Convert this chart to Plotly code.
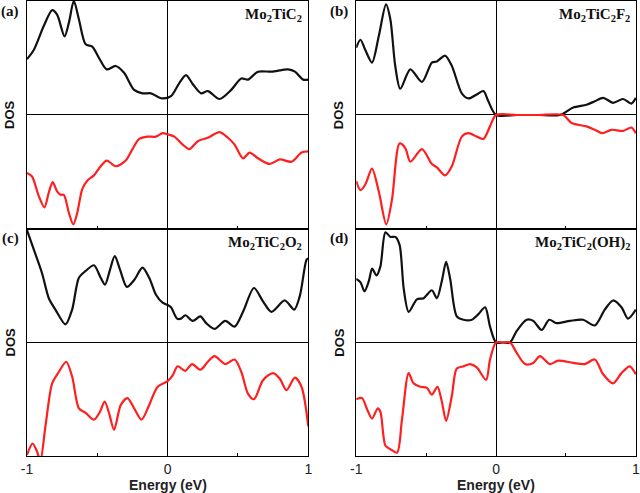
import plotly.graph_objects as go

# ---------------- data (energy in eV, DOS normalised) ----------------
a_up_x = [-1.0, -0.952, -0.881, -0.821, -0.786, -0.733, -0.702, -0.667, -0.631, -0.583, -0.536, -0.488, -0.433, -0.369, -0.31, -0.238, -0.179, -0.119, -0.071, -0.036, 0.024, 0.083, 0.131, 0.179, 0.238, 0.286, 0.369, 0.452, 0.524, 0.571, 0.643, 0.738, 0.857, 0.905, 0.964, 1.0]
a_up_y = [0.49, 0.57, 0.78, 0.92, 0.88, 0.69, 0.81, 1.0, 0.84, 0.62, 0.60, 0.50, 0.40, 0.43, 0.37, 0.22, 0.19, 0.19, 0.16, 0.145, 0.165, 0.28, 0.35, 0.27, 0.19, 0.21, 0.14, 0.22, 0.32, 0.31, 0.38, 0.38, 0.40, 0.38, 0.31, 0.31]
a_dn_x = [-1.0, -0.964, -0.917, -0.876, -0.845, -0.817, -0.786, -0.762, -0.738, -0.702, -0.671, -0.643, -0.607, -0.567, -0.524, -0.476, -0.433, -0.369, -0.298, -0.25, -0.202, -0.143, -0.083, -0.036, 0.0, 0.048, 0.107, 0.155, 0.214, 0.286, 0.369, 0.429, 0.476, 0.536, 0.583, 0.643, 0.726, 0.798, 0.881, 0.952, 1.0]
a_dn_y = [-0.51, -0.54, -0.71, -0.81, -0.68, -0.59, -0.67, -0.70, -0.70, -0.86, -0.96, -0.86, -0.65, -0.57, -0.53, -0.45, -0.40, -0.45, -0.40, -0.30, -0.21, -0.19, -0.19, -0.16, -0.17, -0.19, -0.26, -0.30, -0.23, -0.20, -0.15, -0.20, -0.26, -0.38, -0.33, -0.38, -0.43, -0.39, -0.41, -0.33, -0.32]

b_up_x = [-1.0, -0.97, -0.935, -0.887, -0.839, -0.787, -0.756, -0.721, -0.685, -0.613, -0.53, -0.459, -0.423, -0.364, -0.316, -0.245, -0.197, -0.138, -0.09, -0.055, 0.0, 0.15, 0.3, 0.457, 0.552, 0.647, 0.706, 0.766, 0.837, 0.908, 0.968, 1.0]
b_up_y = [0.59, 0.66, 0.57, 0.46, 0.69, 0.97, 0.84, 0.43, 0.23, 0.40, 0.29, 0.46, 0.47, 0.52, 0.43, 0.19, 0.145, 0.18, 0.21, 0.12, 0.0, 0.0, 0.0, 0.0, 0.065, 0.09, 0.12, 0.15, 0.107, 0.14, 0.10, 0.15]
b_dn_x = [-1.0, -0.97, -0.935, -0.887, -0.839, -0.785, -0.744, -0.69, -0.649, -0.613, -0.53, -0.459, -0.423, -0.364, -0.316, -0.245, -0.197, -0.138, -0.09, -0.043, 0.0, 0.15, 0.3, 0.48, 0.54, 0.647, 0.706, 0.761, 0.825, 0.908, 0.968, 1.0]
b_dn_y = [-0.58, -0.66, -0.61, -0.47, -0.67, -0.96, -0.74, -0.25, -0.29, -0.41, -0.30, -0.43, -0.46, -0.53, -0.45, -0.19, -0.16, -0.19, -0.21, -0.10, 0.0, 0.0, 0.0, 0.0, -0.07, -0.10, -0.13, -0.16, -0.13, -0.14, -0.11, -0.16]

c_up_x = [-1.0, -0.952, -0.893, -0.845, -0.798, -0.726, -0.679, -0.631, -0.583, -0.524, -0.476, -0.445, -0.41, -0.376, -0.338, -0.29, -0.238, -0.179, -0.131, -0.083, -0.036, 0.0, 0.024, 0.067, 0.095, 0.126, 0.179, 0.233, 0.274, 0.333, 0.41, 0.476, 0.536, 0.614, 0.679, 0.738, 0.833, 0.9, 0.94, 0.988, 1.0]
c_up_y = [0.99, 0.82, 0.61, 0.39, 0.29, 0.16, 0.29, 0.57, 0.63, 0.68, 0.57, 0.51, 0.64, 0.76, 0.64, 0.49, 0.55, 0.66, 0.57, 0.42, 0.35, 0.33, 0.31, 0.21, 0.21, 0.24, 0.19, 0.23, 0.17, 0.12, 0.19, 0.14, 0.27, 0.48, 0.36, 0.27, 0.37, 0.29, 0.41, 0.73, 0.74]
c_dn_x = [-1.0, -0.96, -0.929, -0.905, -0.869, -0.821, -0.774, -0.721, -0.679, -0.631, -0.583, -0.524, -0.481, -0.448, -0.417, -0.381, -0.333, -0.286, -0.238, -0.186, -0.131, -0.071, 0.0, 0.036, 0.071, 0.126, 0.174, 0.233, 0.286, 0.333, 0.41, 0.476, 0.524, 0.571, 0.614, 0.679, 0.75, 0.798, 0.845, 0.905, 0.952, 1.0]
c_dn_y = [-0.99, -0.89, -0.96, -1.04, -0.74, -0.36, -0.26, -0.17, -0.30, -0.58, -0.62, -0.68, -0.61, -0.52, -0.62, -0.77, -0.55, -0.49, -0.58, -0.68, -0.55, -0.39, -0.34, -0.29, -0.21, -0.25, -0.19, -0.24, -0.17, -0.12, -0.19, -0.15, -0.26, -0.45, -0.50, -0.33, -0.27, -0.32, -0.42, -0.31, -0.39, -0.74]

d_up_x = [-1.0, -0.969, -0.941, -0.91, -0.886, -0.855, -0.827, -0.791, -0.755, -0.72, -0.69, -0.66, -0.625, -0.566, -0.518, -0.459, -0.423, -0.388, -0.357, -0.328, -0.281, -0.233, -0.174, -0.126, -0.078, -0.043, 0.0, 0.05, 0.1, 0.147, 0.219, 0.266, 0.326, 0.38, 0.433, 0.528, 0.623, 0.706, 0.778, 0.837, 0.897, 0.944, 1.0]
d_up_y = [0.56, 0.53, 0.45, 0.54, 0.65, 0.59, 0.67, 0.97, 0.93, 0.93, 0.86, 0.47, 0.27, 0.38, 0.39, 0.46, 0.39, 0.54, 0.71, 0.56, 0.23, 0.20, 0.20, 0.25, 0.31, 0.14, 0.0, 0.0, 0.0, 0.10, 0.20, 0.19, 0.11, 0.20, 0.17, 0.19, 0.20, 0.15, 0.29, 0.37, 0.31, 0.21, 0.29]
d_dn_x = [-1.0, -0.958, -0.922, -0.887, -0.846, -0.827, -0.791, -0.756, -0.708, -0.673, -0.625, -0.59, -0.542, -0.494, -0.459, -0.419, -0.388, -0.357, -0.316, -0.281, -0.233, -0.185, -0.138, -0.071, -0.043, 0.0, 0.05, 0.1, 0.147, 0.207, 0.266, 0.314, 0.385, 0.445, 0.552, 0.635, 0.706, 0.766, 0.837, 0.897, 0.956, 1.0]
d_dn_y = [-0.50, -0.49, -0.59, -0.67, -0.58, -0.61, -0.91, -0.94, -0.97, -0.68, -0.27, -0.36, -0.39, -0.40, -0.46, -0.39, -0.52, -0.69, -0.47, -0.23, -0.21, -0.19, -0.22, -0.33, -0.15, 0.0, 0.0, 0.0, -0.09, -0.19, -0.18, -0.12, -0.19, -0.16, -0.18, -0.19, -0.15, -0.28, -0.36, -0.27, -0.21, -0.28]

panel_tags = ["(a)", "(b)", "(c)", "(d)"]
panel_names = ["Mo<sub>2</sub>TiC<sub>2</sub>", "Mo<sub>2</sub>TiC<sub>2</sub>F<sub>2</sub>",
               "Mo<sub>2</sub>TiC<sub>2</sub>O<sub>2</sub>", "Mo<sub>2</sub>TiC<sub>2</sub>(OH)<sub>2</sub>"]
x_tick_vals = [-1, -0.5, 0, 0.5, 1]
x_tick_text = ["-1", "", "0", "", "1"]
x_title = "Energy (eV)"
y_title = "DOS"

series = [(a_up_x, a_up_y, a_dn_x, a_dn_y), (b_up_x, b_up_y, b_dn_x, b_dn_y),
          (c_up_x, c_up_y, c_dn_x, c_dn_y), (d_up_x, d_up_y, d_dn_x, d_dn_y)]

UP_COLOR = "#111111"
DN_COLOR = "#ff1f1f"
SERIF = "Liberation Serif, Times New Roman, serif"
SANS = "Liberation Sans, Arial, sans-serif"

fig = go.Figure()
# plot area spans x 27..636.5 px, y 1..456 px
PW = 609.5
xdom = [[0.0, 281.5 / PW], [329.5 / PW, 1.0], [0.0, 281.5 / PW], [329.5 / PW, 1.0]]
ydom = [[0.499, 1.0], [0.499, 1.0], [0.0, 0.499], [0.0, 0.499]]

for i, (ux, uy, dx, dy) in enumerate(series):
    k = "" if i == 0 else str(i + 1)
    fig.add_trace(go.Scatter(x=ux, y=uy, mode="lines", line=dict(color=UP_COLOR, width=2.2, shape="spline", smoothing=0.8),
                             xaxis="x" + k, yaxis="y" + k, showlegend=False, hoverinfo="skip"))
    fig.add_trace(go.Scatter(x=dx, y=dy, mode="lines", line=dict(color=DN_COLOR, width=2.2, shape="spline", smoothing=0.8),
                             xaxis="x" + k, yaxis="y" + k, showlegend=False, hoverinfo="skip"))
    bottom = i >= 2
    xmax = 1.001 if i % 2 == 1 else 1.0
    fig.update_layout(**{
        "xaxis" + k: dict(domain=xdom[i], anchor="y" + k, range=[-1, xmax], showgrid=False,
                          showline=True, mirror=True, linecolor="black", linewidth=1.4,
                          zeroline=True, zerolinecolor="black", zerolinewidth=1,
                          tickmode="array", tickvals=x_tick_vals,
                          ticktext=x_tick_text if bottom else [""] * 5,
                          ticks="inside", ticklen=3, tickcolor="black", tickwidth=1,
                          ticklabeloverflow="allow",
                          tickfont=dict(family=SANS, size=14, color="#222")),
        "yaxis" + k: dict(domain=ydom[i], anchor="x" + k, range=[-1, 1], showgrid=False,
                          showline=True, mirror=True, linecolor="black", linewidth=1.4,
                          zeroline=True, zerolinecolor="black", zerolinewidth=1,
                          showticklabels=False, ticks=""),
    })
    xr = "x" + k + " domain"
    yr = "y" + k + " domain"
    fig.add_annotation(text="<b>" + panel_tags[i] + "</b>", xref=xr, yref=yr, x=0, y=1,
                       xanchor="right", yanchor="middle", xshift=-6, yshift=-10, showarrow=False,
                       font=dict(family=SERIF, size=15, color="#111"))
    fig.add_annotation(text="<b>" + panel_names[i] + "</b>", xref=xr, yref=yr, x=1, y=1,
                       xanchor="right", yanchor="middle", xshift=-4, yshift=-14, showarrow=False,
                       font=dict(family=SERIF, size=15, color="#111"))
    fig.add_annotation(text="<b>" + y_title + "</b>", xref=xr, yref=yr, x=0, y=0.5,
                       xanchor="center", yanchor="middle", xshift=-17, textangle=-90, showarrow=False,
                       font=dict(family=SANS, size=13, color="#111"))
    if bottom:
        fig.add_annotation(text="<b>" + x_title + "</b>", xref=xr, yref="paper", x=0.5, y=0,
                           xanchor="center", yanchor="middle", yshift=-29, showarrow=False,
                           font=dict(family=SANS, size=14, color="#222"))

fig.update_layout(width=642, height=493, margin=dict(l=27, r=5.5, t=1, b=37),
                  paper_bgcolor="white", plot_bgcolor="white", hovermode=False)
fig.write_html("out.html", config={"displayModeBar": False},
               post_script="document.body.style.margin='0';document.body.style.overflow='hidden';")
